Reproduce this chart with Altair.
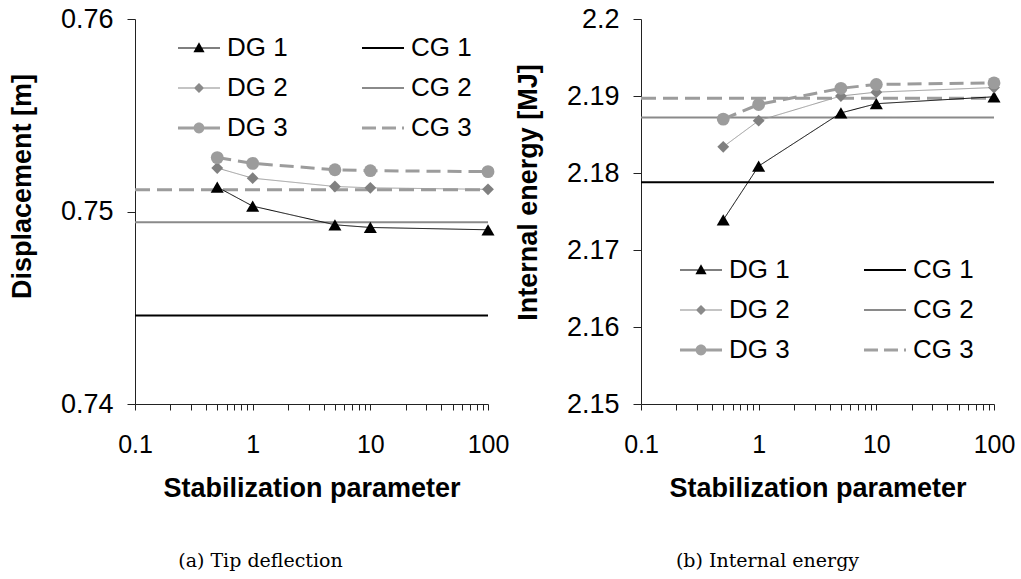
import altair as alt
import pandas as pd

# ---------------- data ----------------
params = [0.5, 1, 5, 10, 100]
x_span = [0.1, 100]

disp_dg1 = [0.75127, 0.75028, 0.74931, 0.74917, 0.74905]
disp_dg2 = [0.75226, 0.75173, 0.75130, 0.75123, 0.75115]
disp_dg3 = [0.75280, 0.75250, 0.75217, 0.75212, 0.75207]
disp_cg = [0.74460, 0.74944, 0.75113]   # CG 1, CG 2, CG 3

ener_dg1 = [2.1739, 2.1809, 2.1878, 2.1890, 2.1899]
ener_dg2 = [2.1834, 2.1868, 2.1900, 2.1905, 2.1911]
ener_dg3 = [2.1870, 2.1889, 2.1910, 2.1915, 2.1917]
ener_cg = [2.1788, 2.1872, 2.1897]

dg_names = ["DG 1", "DG 2", "DG 3"]
cg_names = ["CG 1", "CG 2", "CG 3"]
legend_order = dg_names + cg_names  # legend fills column by column

disp_ticks = [0.74, 0.75, 0.76]
ener_ticks = [2.15, 2.16, 2.17, 2.18, 2.19, 2.2]
x_labels = [0.1, 1, 10, 100]

# ---------------- styles ----------------
FONT = "Liberation Sans"
dg_style = {
    "DG 1": dict(line="#000000", width=1, dash=[1, 0], shape="triangle-up", pt="#000000", size=170),
    "DG 2": dict(line="#9a9a9a", width=1, dash=[1, 0], shape="diamond", pt="#808080", size=140),
    "DG 3": dict(line="#9c9c9c", width=3, dash=[14, 7], shape="circle", pt="#9c9c9c", size=165),
}
cg_style = {
    "CG 1": dict(line="#000000", width=2, dash=[1, 0]),
    "CG 2": dict(line="#8a8a8a", width=2, dash=[1, 0]),
    "CG 3": dict(line="#9c9c9c", width=3, dash=[15, 7]),
}

U = 18.0  # legend symbol unit (px per path unit)


def rect(x0, x1, hw):
    return f"M{x0/U:.3f},{-hw/U:.3f}H{x1/U:.3f}V{hw/U:.3f}H{x0/U:.3f}Z"


line_full = lambda hw: rect(-21, 21, hw)
tri = "M0,-0.32L0.31,0.24L-0.31,0.24Z"
dia = "M0,-0.28L0.28,0L0,0.28L-0.28,0Z"
circ = "M-0.3,0A0.3,0.3,0,1,1,0.3,0A0.3,0.3,0,1,1,-0.3,0Z"
legend_paths = {
    "DG 1": line_full(0.55) + tri,
    "CG 1": line_full(1.0),
    "DG 2": line_full(0.6) + dia,
    "CG 2": line_full(1.0),
    "DG 3": line_full(1.5) + circ,
    "CG 3": rect(-21, -7, 1.5) + rect(-1, 13, 1.5) + rect(19, 21, 1.5),
}
legend_fill = {
    "DG 1": "#000000", "CG 1": "#000000",
    "DG 2": "#8a8a8a", "CG 2": "#8a8a8a",
    "DG 3": "#a0a0a0", "CG 3": "#a0a0a0",
}

minor_ticks = [round(m * 10 ** e, 6) for e in (-1, 0, 1) for m in range(1, 10)] + [100]


def panel(dg_vals, cg_vals, y_ticks, y_title, title_y, caption, leg_x, leg_y, cap_dx):
    dg_df = pd.DataFrame(
        [{"series": s, "param": p, "value": v}
         for s, vals in zip(dg_names, dg_vals) for p, v in zip(params, vals)]
    )
    cg_df = pd.DataFrame(
        [{"series": s, "param": p, "value": v}
         for s, v in zip(cg_names, cg_vals) for p in x_span]
    )
    x = alt.X(
        "param:Q",
        scale=alt.Scale(type="log", domain=[0.1, 100], nice=False),
        axis=alt.Axis(
            values=minor_ticks, format="~g",
            labelExpr="indexof(" + str(x_labels) + ", datum.value) >= 0 ? datum.label : ''",
            labelOverlap=False, labelFlush=False, tickSize=6, labelPadding=22,
            labelFontSize=25, title="Stabilization parameter", titlePadding=18,
        ),
    )
    y = alt.Y(
        "value:Q",
        scale=alt.Scale(domain=[y_ticks[0], y_ticks[-1]], nice=False, zero=False),
        axis=alt.Axis(
            values=y_ticks, format="~g", tickSize=8, labelPadding=14,
            labelFlush=False, labelFontSize=27, title=y_title, titlePadding=24,
            titleY=title_y,
        ),
    )
    layers = []
    for s in cg_names:
        st = cg_style[s]
        layers.append(
            alt.Chart(cg_df).transform_filter(alt.datum.series == s)
            .mark_line(color=st["line"], strokeWidth=st["width"], strokeDash=st["dash"])
            .encode(x=x, y=y)
        )
    for s in dg_names:
        st = dg_style[s]
        layers.append(
            alt.Chart(dg_df).transform_filter(alt.datum.series == s)
            .mark_line(color=st["line"], strokeWidth=st["width"], strokeDash=st["dash"])
            .encode(x=x, y=y)
        )
    for s in dg_names:
        st = dg_style[s]
        layers.append(
            alt.Chart(dg_df).transform_filter(alt.datum.series == s)
            .mark_point(filled=True, shape=st["shape"], size=st["size"], color=st["pt"], opacity=1)
            .encode(x=x, y=y)
        )
    leg = alt.Legend(
        title=None, orient="none", legendX=leg_x, legendY=leg_y, columns=2,
        columnPadding=73, rowPadding=9, symbolSize=U * U * 4, symbolStrokeWidth=0,
        labelFont=FONT, labelFontSize=26, labelColor="black", labelOffset=10,
        labelLimit=300, padding=0, symbolOpacity=1,
    )
    leg_df = pd.DataFrame({"series": legend_order})
    layers.append(
        alt.Chart(leg_df).transform_filter("false")
        .mark_point(filled=True, opacity=1)
        .encode(
            shape=alt.Shape("series:N", scale=alt.Scale(domain=legend_order,
                            range=[legend_paths[s] for s in legend_order]), legend=leg),
            fill=alt.Fill("series:N", scale=alt.Scale(domain=legend_order,
                          range=[legend_fill[s] for s in legend_order]), legend=leg),
        )
    )
    return alt.layer(*layers).properties(
        width=353, height=385,
        title=alt.TitleParams(caption, orient="bottom", font="DejaVu Serif", fontSize=19,
                              fontWeight="normal", color="black", offset=51, dx=cap_dx),
    )


left = panel([disp_dg1, disp_dg2, disp_dg3], disp_cg, disp_ticks,
             "Displacement [m]", 167, "(a) Tip deflection", 46, 11, -51)
right = panel([ener_dg1, ener_dg2, ener_dg3], ener_cg, ener_ticks,
              "Internal energy [MJ]", 173, "(b) Internal energy", 42, 233, -50)

chart = (
    alt.hconcat(left, right, spacing=5)
    .resolve_scale(x="independent", y="independent", shape="independent", fill="independent")
    .resolve_legend(shape="independent", fill="independent")
    .properties(padding={"left": 8, "top": 5, "right": 0, "bottom": 0}, background="white")
    .configure_view(stroke=None)
    .configure_axis(
        labelFont=FONT, titleFont=FONT, labelColor="black", titleColor="black",
        titleFontSize=27, titleFontWeight="bold", domainColor="#222222",
        tickColor="#222222", grid=False, domainWidth=1, tickWidth=1,
    )
)

chart.save("out.html", embed_options={"renderer": "svg", "actions": False})
